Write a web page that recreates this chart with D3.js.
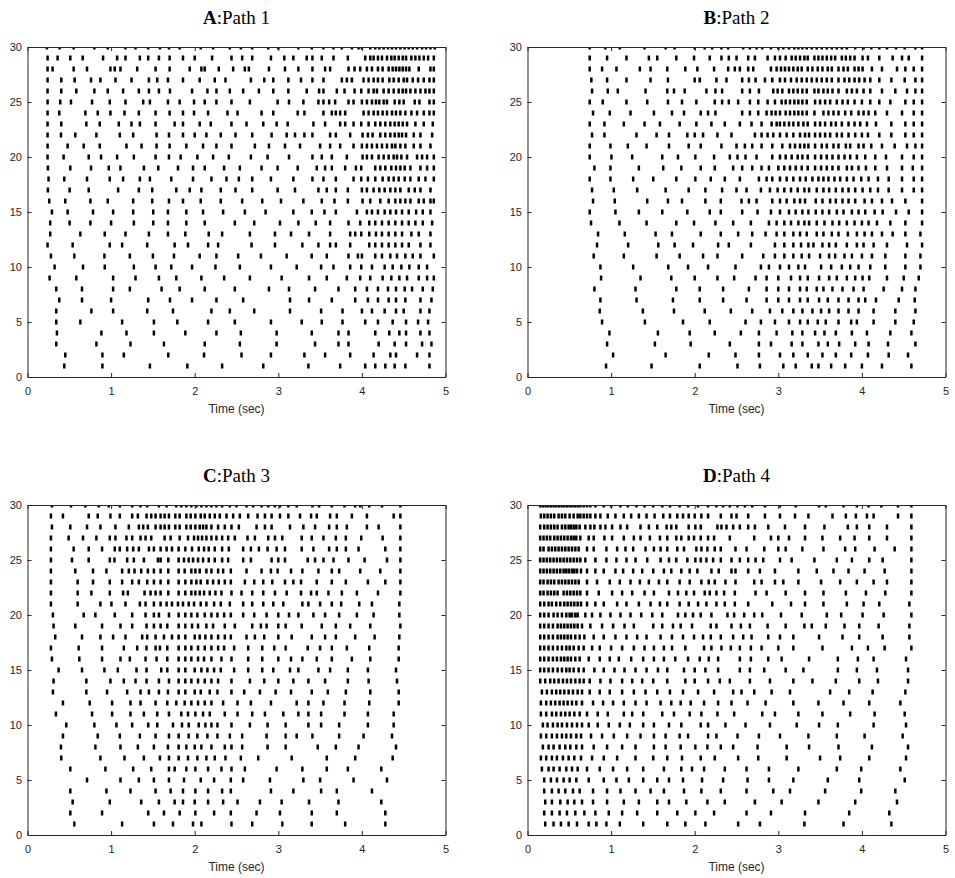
<!DOCTYPE html>
<html>
<head>
<meta charset="utf-8">
<script src="https://cdn.jsdelivr.net/npm/d3@7"></script>
<style>
body { margin: 0; background: #fff; }
.tick text { font-family: "Liberation Sans", Arial, sans-serif; font-size: 11px; fill: #262626; }
.tick line, .domain { stroke: #262626; }
.title { font-family: "Liberation Serif", "DejaVu Serif", serif; font-size: 19px; fill: #000; }
.xlabel { font-family: "Liberation Sans", Arial, sans-serif; font-size: 12px; fill: #262626; }
</style>
</head>
<body>
<script>
var svgW = 955;
var svgH = 878;
var plotW = 418;
var plotH = 330;
var markW = 2.5;
var markH = 5;

var panelLetters = ["A", "B", "C", "D"];
var panelTitles = ["Path 1", "Path 2", "Path 3", "Path 4"];
var xTicks = [0, 1, 2, 3, 4, 5];
var yTicks = [0, 5, 10, 15, 20, 25, 30];
var nNeurons = 30;

// spike times (ms), one list per neuron, neuron 30 first down to neuron 1
var spikesA = [
[232,384,552,800,960,1172,1292,1444,1584,1692,1820,2072,2220,2420,2552,2688,2880,3000,3240,3400,3540,3660,3760,3880,3960,4000,4100,4160,4208,4260,4312,4360,4408,4460,4512,4560,4608,4660,4720,4768,4820,4872],
[240,360,512,660,904,1072,1172,1344,1444,1572,1700,1860,2000,2208,2440,2568,2688,2912,3072,3180,3340,3408,3520,3660,3832,4040,4100,4140,4192,4240,4300,4352,4392,4440,4488,4528,4592,4640,4688,4740,4792,4860],
[240,300,552,712,992,1044,1112,1312,1532,1700,1940,2080,2120,2288,2460,2600,2648,2888,3080,3240,3408,3560,3620,3840,3912,3980,4060,4120,4192,4248,4320,4368,4408,4448,4488,4528,4568,4680,4820,4860],
[240,404,564,760,872,1052,1244,1452,1552,1680,1860,2060,2240,2368,2672,2832,2940,3120,3272,3408,3540,3760,3820,3880,4020,4080,4140,4192,4248,4328,4380,4440,4500,4540,4608,4672,4740,4808,4860],
[240,404,584,800,960,1144,1332,1452,1572,1704,1968,2152,2260,2420,2580,2768,2940,3120,3340,3488,3540,3700,3792,3912,3992,4080,4140,4180,4260,4320,4380,4440,4488,4528,4580,4640,4700,4760,4808,4860],
[240,392,520,772,984,1172,1384,1464,1680,1820,1992,2120,2260,2440,2660,2992,3128,3300,3480,3540,3608,3680,3840,3900,4000,4060,4120,4168,4208,4260,4300,4392,4448,4500,4632,4688,4808,4860],
[240,380,692,840,992,1160,1332,1532,1700,1860,1992,2160,2392,2512,2800,2940,3232,3312,3540,3640,3688,3740,3800,4020,4080,4140,4192,4248,4300,4360,4408,4460,4520,4592,4660,4740,4808,4860],
[240,404,704,864,1092,1244,1344,1532,1760,1860,2060,2192,2440,2620,2820,2980,3112,3420,3560,3740,3800,3900,3992,4080,4160,4220,4280,4340,4392,4440,4488,4540,4640,4740,4848],
[240,400,572,824,1104,1264,1544,1692,1860,2000,2140,2312,2488,2688,2920,3100,3200,3312,3408,3620,3688,3860,4008,4072,4128,4220,4280,4340,4392,4440,4480,4528,4620,4700,4840],
[240,480,672,864,1184,1364,1544,1700,1900,2100,2260,2440,2720,2888,3080,3260,3500,3620,3740,3900,4000,4060,4120,4180,4240,4300,4360,4400,4460,4520,4620,4700,4820],
[240,432,732,880,1072,1272,1532,1692,1832,2032,2220,2408,2672,2872,3128,3408,3520,3640,3820,4008,4060,4120,4200,4260,4320,4380,4420,4472,4540,4660,4720,4780,4860],
[244,512,760,972,1112,1392,1564,1800,1980,2120,2352,2540,2800,2992,3232,3460,3560,3640,3800,3928,3992,4160,4220,4280,4352,4408,4460,4512,4580,4700,4780,4860],
[252,440,712,984,1144,1344,1464,1720,1980,2200,2380,2528,2688,2912,3180,3408,3540,3688,3900,3992,4072,4160,4248,4320,4380,4440,4512,4580,4680,4760,4860],
[244,504,732,1084,1332,1492,1780,1940,2080,2312,2488,2688,2992,3200,3480,3580,3688,3832,4000,4060,4140,4208,4272,4340,4400,4460,4560,4632,4700,4820],
[260,452,752,960,1264,1492,1692,1860,2072,2312,2568,2808,3032,3300,3520,3672,3832,4008,4100,4220,4320,4400,4460,4520,4580,4680,4740,4820,4860],
[292,480,784,1024,1264,1504,1680,1900,2100,2340,2600,2848,3180,3400,3552,3688,3940,4060,4120,4192,4272,4340,4408,4480,4560,4648,4728,4820],
[272,504,752,1000,1272,1504,1680,1900,2120,2480,2712,3020,3240,3448,3620,3840,3980,4088,4160,4240,4320,4400,4480,4560,4640,4728,4840],
[272,632,924,1172,1452,1680,1888,2168,2328,2660,2960,3152,3368,3620,3860,3920,3992,4088,4168,4240,4320,4400,4480,4592,4680,4820],
[240,540,984,1132,1432,1760,1920,2160,2280,2680,2960,3288,3480,3620,3688,3860,4088,4160,4240,4320,4400,4480,4560,4700,4820],
[280,560,920,1224,1500,1752,2060,2260,2520,2792,3100,3400,3580,3840,3952,4000,4160,4240,4340,4420,4520,4608,4700,4860],
[324,664,924,1272,1532,1720,1968,2248,2540,2912,3220,3512,3660,3860,3992,4120,4272,4368,4472,4568,4680,4780],
[264,584,1024,1292,1572,1780,2080,2352,2660,3040,3368,3580,3820,3980,4100,4248,4352,4448,4540,4680,4780,4860],
[344,652,1024,1224,1604,1820,2120,2480,2888,3128,3440,3720,3920,4060,4192,4312,4408,4512,4600,4728,4848],
[380,652,1000,1444,1704,1968,2260,2580,3140,3368,3640,3920,4072,4192,4320,4408,4520,4700,4832],
[344,764,1024,1432,1740,2200,2420,2712,3140,3512,3768,4000,4120,4272,4408,4500,4700,4808],
[344,632,1132,1512,1792,2160,2480,2912,3280,3520,3768,4040,4192,4368,4528,4672,4792],
[352,884,1184,1512,1888,2260,2552,2980,3400,3720,3840,4160,4328,4448,4528,4700,4808],
[344,824,1232,1632,2120,2540,2980,3440,3720,3840,4200,4392,4528,4720,4832],
[452,896,1152,1684,2112,2560,2912,3312,3560,3860,4140,4340,4408,4660,4808],
[440,896,1464,1912,2328,2820,3360,3740,4040,4160,4280,4392,4520,4808]
];

var spikesB = [
[744,932,1104,1400,1652,1760,2000,2120,2208,2320,2400,2580,2660,2740,2808,2912,3000,3060,3128,3192,3240,3288,3340,3400,3460,3520,3580,3640,3700,3760,3820,3920,4020,4112,4208,4300,4408,4512,4640,4720],
[744,952,1184,1452,1552,1780,1992,2180,2320,2408,2500,2640,2720,2872,2960,3020,3088,3160,3208,3260,3312,3352,3432,3480,3528,3580,3632,3680,3760,3808,3860,3912,4008,4072,4208,4368,4480,4560,4720],
[744,892,1064,1344,1472,1672,1888,2032,2232,2400,2480,2540,2640,2700,2912,2980,3032,3080,3128,3180,3232,3280,3352,3408,3472,3528,3592,3640,3720,3780,3832,3912,3960,4008,4120,4240,4420,4520,4620,4720],
[764,952,1184,1472,1680,2000,2060,2260,2380,2568,2648,2728,2840,2928,3020,3080,3152,3220,3280,3340,3400,3460,3520,3580,3640,3720,3792,3848,3912,3968,4032,4100,4208,4352,4512,4640,4720],
[772,960,1080,1412,1672,1752,1880,2140,2248,2328,2568,2660,2768,2940,2992,3048,3128,3180,3232,3288,3340,3432,3480,3540,3592,3648,3720,3820,3880,3940,4020,4100,4240,4400,4540,4640,4720],
[744,900,1184,1432,1680,1848,2020,2240,2328,2408,2520,2660,2760,2872,2960,3040,3088,3140,3192,3240,3288,3340,3440,3500,3560,3620,3700,3768,3832,3912,4000,4100,4208,4340,4520,4620,4720],
[784,984,1232,1512,1728,1872,2072,2160,2248,2568,2660,2760,2860,2920,2968,3020,3088,3140,3192,3240,3288,3340,3432,3540,3600,3660,3720,3800,3872,3960,4020,4080,4160,4300,4480,4620,4720],
[744,920,1152,1400,1584,1820,2020,2200,2360,2540,2680,2800,2920,2980,3020,3072,3128,3180,3240,3300,3352,3440,3500,3560,3632,3688,3760,3840,3912,3980,4060,4168,4352,4520,4620,4720],
[772,920,1304,1544,1692,1912,2000,2100,2272,2440,2720,2800,2872,2940,3020,3100,3180,3260,3320,3368,3440,3500,3560,3620,3700,3760,3840,3920,4000,4072,4208,4352,4520,4620,4720],
[744,992,1200,1424,1692,1928,2072,2320,2500,2600,2688,2800,2928,3048,3140,3200,3260,3312,3360,3440,3520,3580,3660,3720,3808,3860,3960,4020,4112,4240,4392,4540,4640,4720],
[744,1004,1252,1612,1800,2008,2232,2420,2512,2608,2740,2928,3020,3088,3160,3232,3288,3352,3440,3512,3580,3648,3720,3792,3860,3940,4040,4160,4288,4480,4620,4720],
[800,992,1332,1624,1840,2072,2240,2460,2568,2688,2800,2888,3000,3072,3140,3208,3280,3352,3440,3512,3580,3648,3720,3820,3880,3960,4048,4160,4300,4480,4608,4720],
[744,992,1264,1504,1780,2008,2192,2360,2540,2768,2860,2928,3020,3100,3180,3260,3328,3408,3480,3540,3600,3672,3740,3820,3900,3992,4080,4192,4320,4480,4620,4720],
[772,1032,1312,1652,1928,2128,2328,2500,2620,2792,2900,2992,3072,3152,3232,3312,3368,3460,3540,3608,3688,3768,3840,3920,4008,4100,4192,4320,4480,4620,4720],
[784,1044,1432,1680,1848,2128,2312,2560,2648,2740,2928,3020,3100,3192,3260,3320,3448,3528,3620,3688,3768,3840,3920,4032,4120,4240,4360,4520,4720],
[744,1052,1332,1612,1912,2180,2312,2568,2752,2912,3020,3128,3208,3288,3360,3448,3528,3608,3700,3780,3880,3960,4040,4152,4248,4408,4560,4720],
[760,1100,1424,1780,1992,2248,2460,2672,2888,2980,3072,3152,3240,3312,3368,3460,3552,3648,3728,3820,3912,4000,4080,4180,4340,4520,4720],
[844,1164,1532,1728,2072,2312,2520,2688,2848,2980,3072,3180,3260,3340,3460,3540,3640,3720,3832,3940,4032,4120,4240,4368,4520,4700],
[832,1204,1564,1760,1980,2280,2408,2672,2960,3072,3180,3272,3360,3420,3528,3608,3688,3820,3940,4020,4140,4300,4540,4720],
[792,1152,1544,1820,2100,2272,2568,2820,2960,3072,3180,3280,3368,3500,3608,3680,3792,3880,4000,4120,4280,4520,4700],
[872,1264,1684,1920,2160,2488,2792,2888,3020,3128,3240,3320,3512,3632,3760,3860,3960,4100,4280,4520,4700],
[880,1352,1720,2000,2272,2472,2728,2860,3000,3152,3260,3352,3488,3608,3700,3820,3920,4008,4088,4300,4500,4680],
[800,1292,1780,2060,2340,2648,2860,3000,3128,3260,3340,3460,3540,3648,3768,3900,4020,4260,4480,4640],
[872,1304,1740,2060,2340,2620,2860,3000,3128,3260,3352,3488,3592,3720,3840,3960,4040,4168,4440,4632],
[864,1380,1752,2120,2432,2688,2900,3048,3180,3288,3408,3512,3608,3720,3840,3960,4140,4400,4640],
[892,1404,1860,2180,2608,2792,2960,3128,3260,3352,3472,3568,3720,3872,3940,4140,4400,4620],
[980,1560,1940,2240,2552,2768,2980,3168,3288,3440,3552,3688,3880,4060,4340,4592],
[952,1524,1952,2420,2768,2912,3160,3288,3480,3592,3728,3920,4080,4312,4640],
[1024,1652,2168,2488,2768,3020,3180,3352,3528,3688,3872,4072,4320,4552],
[940,1484,2060,2512,2780,3060,3208,3400,3480,3632,3800,4000,4240,4592]
];

var spikesC = [
[292,520,692,852,972,1104,1252,1352,1432,1572,1664,1780,1840,1900,1960,2020,2080,2140,2200,2260,2328,2420,2500,2620,2700,2800,2880,2960,3020,3120,3220,3408,3488,3640,3792,3920,3980,4088,4240,4460],
[280,424,732,840,992,1104,1252,1320,1424,1480,1532,1592,1640,1692,1768,1820,1900,1952,2008,2072,2120,2180,2240,2300,2380,2460,2540,2640,2752,2840,2920,3020,3120,3260,3392,3460,3620,3700,3880,4060,4380,4460],
[292,512,712,872,1052,1212,1332,1384,1440,1532,1592,1640,1692,1768,1820,1900,1952,2008,2060,2100,2140,2200,2280,2360,2440,2528,2740,2840,2920,3140,3300,3440,3608,3700,3820,4060,4200,4460],
[280,492,664,824,984,1052,1184,1252,1352,1412,1480,1640,1712,1820,1920,1992,2040,2088,2140,2200,2260,2328,2400,2480,2632,2720,2880,2960,3048,3280,3400,3540,3688,3808,3992,4248,4460],
[280,552,732,892,1044,1104,1192,1264,1332,1452,1512,1592,1664,1728,1808,1888,1968,2048,2112,2168,2240,2328,2408,2580,2672,2768,2872,2980,3080,3280,3420,3608,3700,3808,3960,4280,4460],
[280,532,732,984,1040,1192,1272,1392,1560,1592,1684,1808,1872,1928,1980,2040,2100,2168,2240,2328,2400,2580,2672,2920,3000,3080,3352,3440,3540,3660,3840,4032,4300,4460],
[280,572,784,944,1132,1212,1280,1360,1440,1512,1592,1684,1808,1880,1960,2008,2060,2140,2200,2280,2340,2432,2620,2800,2912,2992,3152,3288,3480,3640,3728,3980,4220,4460],
[280,600,784,984,1132,1252,1332,1432,1512,1592,1684,1808,1888,1960,2020,2072,2152,2220,2288,2360,2432,2600,2712,2820,2928,3080,3180,3272,3460,3640,3808,4072,4280,4460],
[280,600,764,984,1144,1200,1400,1472,1532,1592,1684,1808,1888,1960,2008,2060,2112,2180,2248,2320,2440,2560,2688,2820,2960,3100,3272,3392,3460,3600,3760,3940,4192,4460],
[280,600,872,1004,1172,1344,1412,1512,1592,1664,1728,1800,1860,1928,1992,2072,2140,2232,2312,2420,2580,2688,2820,2940,3060,3288,3360,3500,3640,3752,3968,4120,4448],
[304,672,812,1044,1252,1412,1512,1572,1692,1808,1888,1960,2032,2120,2200,2272,2352,2432,2580,2712,2860,3000,3128,3240,3420,3560,3728,3940,4140,4448],
[312,572,892,1112,1252,1424,1512,1592,1672,1808,1888,1968,2040,2140,2220,2360,2480,2688,2792,2860,3000,3088,3280,3520,3688,3860,4100,4460],
[332,652,872,1024,1172,1372,1432,1532,1632,1728,1808,1888,2000,2060,2128,2200,2280,2360,2432,2620,2720,2832,3000,3160,3400,3560,3688,3920,4152,4448],
[280,612,892,1152,1312,1424,1532,1584,1672,1808,1888,1960,2040,2120,2200,2280,2352,2472,2640,2808,2952,3088,3352,3500,3640,3820,4088,4440],
[292,620,892,1112,1224,1412,1544,1672,1808,1888,1960,2040,2112,2200,2320,2440,2640,2808,3000,3152,3288,3460,3640,3880,4100,4440],
[372,652,920,1080,1304,1424,1600,1672,1808,1888,2000,2080,2152,2232,2312,2472,2640,2808,2940,3140,3240,3480,3620,3832,4072,4408],
[312,704,992,1152,1292,1424,1572,1692,1808,1888,1960,2040,2120,2200,2280,2440,2660,2832,3000,3180,3360,3560,3832,4080,4420],
[304,704,952,1192,1352,1452,1572,1680,1808,1888,2000,2072,2180,2272,2440,2592,2780,2968,3152,3400,3592,3808,4100,4440],
[424,744,1012,1232,1352,1532,1672,1780,1880,1960,2040,2120,2200,2340,2512,2672,2912,3220,3360,3540,3792,4088,4440],
[340,772,1012,1232,1392,1552,1692,1840,1920,2008,2100,2180,2360,2512,2688,2840,3060,3240,3360,3512,3792,4072,4380],
[464,800,1064,1252,1444,1552,1740,1848,1928,2048,2128,2200,2272,2440,2660,2872,3088,3360,3512,3728,4072,4380],
[424,840,1104,1344,1532,1692,1808,1928,2032,2152,2272,2420,2568,2860,3088,3220,3408,3728,4020,4360],
[400,812,1112,1320,1512,1680,1808,1900,2000,2080,2200,2360,2440,2568,2872,3088,3472,3688,3960,4408],
[404,872,1160,1392,1584,1692,1808,1920,2032,2140,2240,2368,2552,2760,3160,3580,3920,4368],
[512,932,1264,1480,1692,1760,1900,2008,2160,2320,2440,2600,2980,3288,3580,3832,4232],
[712,1112,1332,1512,1692,1872,2072,2232,2432,2580,2900,3300,3500,3900,4300],
[512,944,1232,1532,1712,1860,2008,2160,2328,2432,2912,3180,3512,3700,4120],
[540,984,1360,1572,1760,1860,2000,2160,2340,2512,2780,3040,3368,3720,4232],
[512,892,1444,1632,1820,2008,2232,2432,2740,3020,3400,3700,4280],
[560,1132,1512,1740,1980,2080,2440,2688,3048,3400,3800,4280]
];

var spikesD = [
[152,184,216,248,280,312,344,376,408,440,472,504,536,568,600,632,672,712,752,812,912,1000,1112,1200,1304,1400,1504,1612,1704,1820,1920,2040,2160,2260,2340,2420,2512,2600,2688,2840,3020,3208,3488,3568,3780,3940,4080,4232,4432,4592],
[160,200,240,280,320,372,412,452,504,552,600,632,672,712,752,812,872,960,1052,1152,1240,1332,1424,1520,1624,1704,1792,1860,1928,2000,2080,2160,2312,2440,2500,2640,2840,3020,3200,3360,3648,3808,3928,4060,4140,4432,4592],
[152,200,240,280,320,360,412,452,492,520,552,584,624,692,752,800,872,932,1012,1112,1192,1352,1452,1552,1664,1720,1780,1928,2008,2072,2272,2320,2380,2460,2540,2640,2720,2880,3080,3320,3552,3832,3940,4088,4300,4592],
[152,192,232,272,320,360,400,440,480,520,552,584,632,732,792,920,1012,1152,1272,1352,1464,1584,1672,1780,1840,1928,1992,2072,2160,2232,2420,2712,2912,3000,3128,3320,3528,3740,3912,4088,4300,4592],
[152,192,252,292,332,372,412,452,492,532,572,612,712,792,944,1072,1172,1264,1412,1512,1592,1672,1792,1872,2020,2080,2152,2240,2312,2488,2620,2832,3000,3088,3288,3540,3800,3920,4152,4392,4592],
[152,192,232,272,312,352,392,432,472,512,552,592,632,692,812,944,1064,1184,1292,1432,1592,1692,1780,1912,2008,2072,2140,2220,2312,2440,2540,2640,2728,2820,3020,3160,3432,3700,3880,4088,4248,4592],
[152,192,232,272,312,352,392,432,464,496,532,560,592,640,712,812,912,1052,1144,1264,1372,1504,1632,1720,1840,1940,2032,2200,2288,2440,2488,2640,2780,2960,3240,3460,3660,3840,4032,4272,4592],
[152,192,240,280,320,372,412,452,492,532,572,612,712,832,984,1104,1232,1344,1452,1572,1672,1820,1940,2080,2168,2240,2368,2488,2712,2800,2960,3060,3240,3512,3740,3940,4140,4300,4592],
[152,192,240,280,320,360,432,472,512,552,592,632,712,852,1012,1132,1252,1400,1512,1692,1800,1900,1992,2120,2180,2260,2352,2480,2728,2860,3088,3320,3540,3808,4048,4280,4592],
[152,200,252,292,344,392,440,480,520,560,600,640,712,812,912,1072,1184,1332,1472,1584,1672,1820,1928,2040,2140,2260,2360,2480,2640,2928,3152,3320,3540,3820,4020,4208,4568],
[152,200,252,312,360,412,464,504,532,572,600,692,772,872,992,1112,1232,1360,1492,1612,1800,1888,1980,2072,2200,2392,2472,2592,2712,2808,3032,3280,3580,3752,4008,4260,4592],
[152,200,252,304,360,400,440,480,520,560,600,652,752,892,1024,1160,1272,1504,1612,1740,1832,1968,2192,2260,2440,2552,2660,2872,3088,3312,3400,3568,3792,3968,4200,4568],
[152,200,252,304,360,400,440,480,520,572,624,680,792,912,1052,1184,1312,1424,1592,1728,1860,1992,2100,2192,2312,2460,2580,2680,2880,3020,3180,3488,3768,3968,4248,4568],
[152,200,252,304,360,412,464,504,552,612,672,772,864,1000,1132,1272,1400,1512,1632,1728,1888,2112,2200,2320,2432,2540,2672,2800,3000,3180,3528,3880,4072,4272,4592],
[152,200,252,304,352,400,440,480,520,572,624,732,864,984,1092,1240,1384,1512,1632,1768,1920,2060,2168,2280,2540,2672,2880,3040,3368,3712,3952,4140,4528],
[152,200,252,304,360,412,464,504,552,612,672,800,912,1040,1160,1292,1424,1560,1672,1872,2000,2128,2280,2540,2660,2832,3088,3300,3712,3940,4180,4552],
[152,212,272,320,372,424,472,520,572,624,672,744,872,992,1132,1252,1372,1504,1672,1888,2000,2160,2300,2420,2660,2900,3180,3408,3688,3968,4192,4552],
[172,232,292,344,392,440,492,544,600,652,744,864,984,1132,1272,1412,1552,1704,1860,2040,2232,2460,2560,2712,2920,3140,3620,3848,4128,4520],
[160,224,280,332,384,432,480,532,584,652,784,904,1024,1152,1292,1424,1592,1720,1832,1952,2112,2280,2440,2632,2848,3180,3480,3780,4088,4460],
[160,224,292,344,400,452,504,560,624,712,840,960,1152,1252,1384,1612,1752,1940,2080,2272,2472,2808,2960,3240,3528,3860,4152,4512],
[184,240,304,360,412,472,532,592,652,732,840,972,1104,1224,1384,1512,1692,1840,2072,2160,2368,2608,2900,3220,3488,3712,4140,4528],
[160,224,292,352,412,464,520,584,640,760,892,1032,1192,1352,1512,1652,1820,1920,2160,2260,2512,2768,3020,3360,3700,4032,4488],
[184,252,312,384,452,512,584,652,792,952,1132,1292,1512,1652,1832,2008,2152,2312,2460,2752,3100,3368,3720,4120,4552],
[160,224,292,352,424,492,560,640,772,912,1072,1292,1504,1672,1848,2072,2240,2520,2760,3100,3500,3740,4088,4528],
[172,252,312,384,464,532,600,712,864,1024,1192,1384,1632,1840,1968,2112,2360,2620,2888,3240,3700,3992,4460],
[200,280,352,432,504,584,732,912,1064,1212,1384,1552,1692,1860,2088,2340,2632,2888,3180,3592,3968,4512],
[200,292,372,452,544,624,784,952,1112,1292,1472,1632,1872,2080,2312,2620,2940,3140,3560,3992,4400],
[212,292,392,480,560,652,784,952,1152,1332,1552,1692,1900,2152,2360,2720,3040,3480,3920,4420],
[200,292,384,472,572,680,812,972,1132,1312,1552,1792,2008,2232,2620,2912,3320,3848,4328],
[212,312,400,492,592,732,824,944,1104,1384,1672,1888,2128,2520,2780,3312,3780,4352]
];

var panelSpikes = [spikesA, spikesB, spikesC, spikesD];
// where each plot box sits on the page
var panelLeft = [27.5, 527.5, 27.5, 527.5];
var panelTop = [47, 47, 505, 505];

//Create SVG element
var svg = d3.select("body")
    .append("svg")
    .attr("width", svgW)
    .attr("height", svgH);

var defs = svg.append("defs");

var xScale = d3.scaleLinear()
    .domain([0, 5])
    .range([0, plotW]);

var yScale = d3.scaleLinear()
    .domain([0, nNeurons])
    .range([plotH, 0]);

panelLetters.forEach(function(letter, k) {
    var g = svg.append("g")
	.attr("transform", "translate(" + panelLeft[k] + "," + panelTop[k] + ")");

    defs.append("clipPath")
	.attr("id", "clip" + k)
	.append("rect")
	.attr("width", plotW)
	.attr("height", plotH);

    // flatten rows into points
    var points = [];
    panelSpikes[k].forEach(function(row, i) {
	row.forEach(function(ms) {
	    points.push({ t: ms / 1000, n: nNeurons - i });
	});
    });

    //Spikes
    g.append("g")
	.attr("clip-path", "url(#clip" + k + ")")
	.selectAll("rect")
	.data(points)
	.enter()
	.append("rect")
	.attr("x", function(d) { return xScale(d.t) - markW / 2; })
	.attr("y", function(d) { return yScale(d.n) - markH / 2; })
	.attr("width", markW)
	.attr("height", markH)
	.attr("fill", "#000");

    //Define axes (ticks point inward)
    var xAxis = d3.axisBottom(xScale)
	.tickValues(xTicks)
	.tickFormat(d3.format("d"))
	.tickSizeInner(-4)
	.tickSizeOuter(0)
	.tickPadding(10);

    var xAxisTop = d3.axisTop(xScale)
	.tickValues(xTicks)
	.tickSizeInner(-4)
	.tickSizeOuter(0)
	.tickFormat("");

    var yAxis = d3.axisLeft(yScale)
	.tickValues(yTicks)
	.tickFormat(d3.format("d"))
	.tickSizeInner(-4)
	.tickSizeOuter(0)
	.tickPadding(5.5);

    var yAxisRight = d3.axisRight(yScale)
	.tickValues(yTicks)
	.tickSizeInner(-4)
	.tickSizeOuter(0)
	.tickFormat("");

    g.append("g")
	.attr("transform", "translate(0," + plotH + ")")
	.call(xAxis);
    g.append("g")
	.call(xAxisTop);
    g.append("g")
	.call(yAxis);
    g.append("g")
	.attr("transform", "translate(" + plotW + ",0)")
	.call(yAxisRight);

    //Labels
    g.append("text")
	.attr("class", "xlabel")
	.attr("x", plotW / 2)
	.attr("y", plotH + 36)
	.attr("text-anchor", "middle")
	.text("Time (sec)");

    var title = g.append("text")
	.attr("class", "title")
	.attr("x", plotW / 2)
	.attr("y", -23)
	.attr("text-anchor", "middle");
    title.append("tspan")
	.style("font-weight", "bold")
	.text(letter);
    title.append("tspan")
	.text(":" + panelTitles[k]);
});
</script>
</body>
</html>
